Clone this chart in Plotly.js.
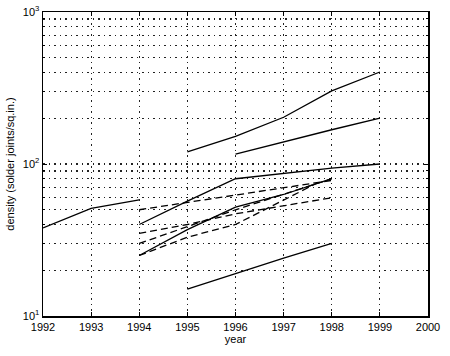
<!DOCTYPE html>
<html>
<head>
<meta charset="utf-8">
<script src="https://cdn.plot.ly/plotly-3.0.1.min.js"></script>
<style>html,body{margin:0;padding:0;background:#fff}#chart{width:450px;height:356px}</style>
</head>
<body>
<div id="chart"></div>
<script>
// Solid series
const s1x = [1992, 1993, 1994];
const s1y = [38, 51, 58];
const s2x = [1995, 1996, 1997, 1998, 1999];
const s2y = [120, 152, 203, 303, 403];
const s3x = [1996, 1997, 1998, 1999];
const s3y = [116, 140, 168, 200];
const s4x = [1994, 1995, 1996, 1997, 1998, 1999];
const s4y = [40, 57, 80, 87, 94, 100];
const s5x = [1995, 1996, 1997, 1998];
const s5y = [15, 19, 24, 30];
const s6x = [1994, 1995, 1996, 1997, 1998];
const s6y = [25, 37, 52, 63, 80];
// Dashed series
const d1x = [1994, 1998];
const d1y = [50, 78];
const d2x = [1994, 1995, 1996, 1997, 1998];
const d2y = [35, 40, 47, 53, 60];
const d3x = [1994, 1996, 1998];
const d3y = [30, 50, 80];
const d4x = [1994, 1995, 1996, 1997.7];
const d4y = [25, 33, 40, 75];

const xTicks = [1992, 1993, 1994, 1995, 1996, 1997, 1998, 1999, 2000];
const yTicks = [10, 100, 1000];
const yTickText = ['10<sup>1</sup>', '10<sup>2</sup>', '10<sup>3</sup>'];
const yMinor = [20,30,40,50,60,70,80,90,200,300,400,500,600,700,800,900];

function solid(x, y) {
  return {x: x, y: y, type: 'scatter', mode: 'lines', line: {color: '#000', width: 1.3}, hoverinfo: 'skip'};
}
function dashed(x, y) {
  return {x: x, y: y, type: 'scatter', mode: 'lines', line: {color: '#000', width: 1.3, dash: '7px,4px'}, hoverinfo: 'skip'};
}

const data = [
  solid(s1x, s1y), solid(s2x, s2y), solid(s3x, s3y), solid(s4x, s4y), solid(s5x, s5y), solid(s6x, s6y),
  dashed(d1x, d1y), dashed(d2x, d2y), dashed(d3x, d3y), dashed(d4x, d4y)
];

const gridDash = '1.5px,4px';
const layout = {
  width: 450, height: 356,
  margin: {l: 43, r: 22, t: 12, b: 40},
  showlegend: false,
  paper_bgcolor: '#fff', plot_bgcolor: '#fff',
  font: {family: 'Liberation Sans, Arial, sans-serif', size: 11, color: '#000'},
  xaxis: {
    range: [1992, 2000],
    tickmode: 'array', tickvals: xTicks, ticktext: xTicks.map(String),
    showgrid: true, gridcolor: '#222', gridwidth: 1.2, griddash: gridDash,
    showline: true, linecolor: '#000', linewidth: 1.5, mirror: 'ticks',
    ticks: 'inside', ticklen: 4, tickcolor: '#000',
    zeroline: false,
    title: {text: 'year', font: {size: 11}, standoff: 2}
  },
  yaxis: {
    type: 'log', range: [1, 3],
    tickmode: 'array', tickvals: yTicks, ticktext: yTickText,
    showgrid: true, gridcolor: '#222', gridwidth: 1.2, griddash: gridDash,
    minor: {tickmode: 'array', tickvals: yMinor, showgrid: true, gridcolor: '#222', gridwidth: 1.2, griddash: gridDash, ticks: 'inside', ticklen: 2, tickcolor: '#000'},
    showline: true, linecolor: '#000', linewidth: 1.5, mirror: 'ticks',
    ticks: 'inside', ticklen: 4, tickcolor: '#000',
    zeroline: false,
    title: {text: 'density (solder joints/sq.in.)', font: {size: 11}, standoff: 6}
  }
};

Plotly.newPlot('chart', data, layout, {staticPlot: true, displayModeBar: false});
</script>
</body>
</html>
